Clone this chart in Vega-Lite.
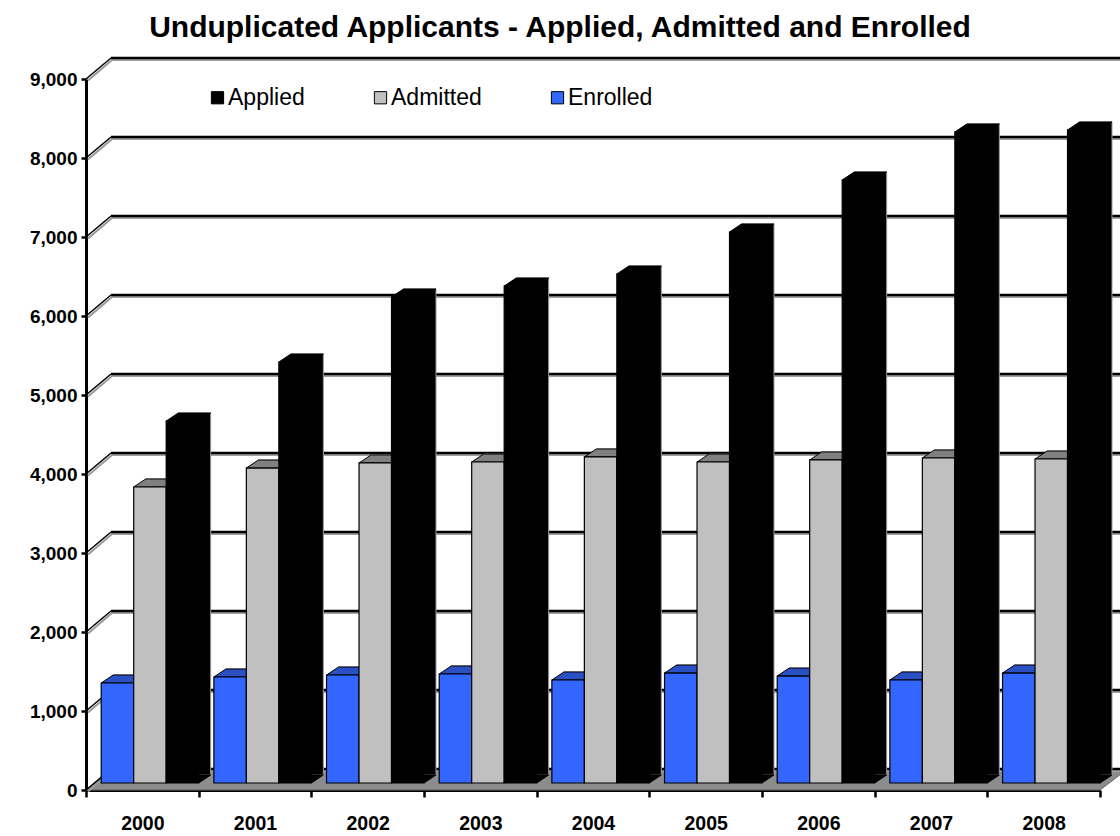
{
"$schema":"https://vega.github.io/schema/vega-lite/v6.json",
"width":1014,"height":711,
"autosize":"none",
"padding":{"left":86,"top":79,"right":20,"bottom":46},
"background":"white",
"title":{"text":"Unduplicated Applicants - Applied, Admitted and Enrolled","font":"Liberation Sans","fontWeight":"bold","fontSize":30,"color":"black","anchor":"middle","dx":-33,"offset":12},
"config":{"view":{"stroke":null},"font":"Liberation Sans"},
"datasets":{
"bars":[
{"year":"2000","series":"Enrolled","value":1266},{"year":"2001","series":"Enrolled","value":1342},{"year":"2002","series":"Enrolled","value":1367},{"year":"2003","series":"Enrolled","value":1380},{"year":"2004","series":"Enrolled","value":1304},{"year":"2005","series":"Enrolled","value":1392},{"year":"2006","series":"Enrolled","value":1354},{"year":"2007","series":"Enrolled","value":1304},{"year":"2008","series":"Enrolled","value":1392},
{"year":"2000","series":"Admitted","value":3747},{"year":"2001","series":"Admitted","value":3987},{"year":"2002","series":"Admitted","value":4051},{"year":"2003","series":"Admitted","value":4063},{"year":"2004","series":"Admitted","value":4127},{"year":"2005","series":"Admitted","value":4063},{"year":"2006","series":"Admitted","value":4089},{"year":"2007","series":"Admitted","value":4114},{"year":"2008","series":"Admitted","value":4101},
{"year":"2000","series":"Applied","value":4582},{"year":"2001","series":"Applied","value":5329},{"year":"2002","series":"Applied","value":6152},{"year":"2003","series":"Applied","value":6291},{"year":"2004","series":"Applied","value":6443},{"year":"2005","series":"Applied","value":6975},{"year":"2006","series":"Applied","value":7633},{"year":"2007","series":"Applied","value":8241},{"year":"2008","series":"Applied","value":8266}
],
"ticks":[{"tick":0},{"tick":1000},{"tick":2000},{"tick":3000},{"tick":4000},{"tick":5000},{"tick":6000},{"tick":7000},{"tick":8000},{"tick":9000}]
},
"resolve":{"scale":{"x":"independent","y":"independent","xOffset":"independent"},"axis":{"x":"independent","y":"independent"}},
"layer":[
{"data":{"name":"ticks"},
 "encoding":{
  "x":{"datum":"2000","bandPosition":0,"type":"nominal","scale":{"domain":["2000","2001","2002","2003","2004","2005","2006","2007","2008"],"paddingInner":0,"paddingOuter":0},
   "axis":{"title":null,"labelFont":"Liberation Sans","labelFontWeight":"bold","labelFontSize":19.5,"labelColor":"black","labelAngle":0,"labelPadding":17,"tickBand":"extent","tickSize":7,"tickWidth":2.5,"tickColor":"black","domainColor":"black","domainWidth":3,"grid":false}},
  "y":{"field":"tick","type":"quantitative","scale":{"domain":[0,9000],"nice":false},
   "axis":{"title":null,"values":[0,1000,2000,3000,4000,5000,6000,7000,8000,9000],"format":",.0f","labelFont":"Liberation Sans","labelFontWeight":"bold","labelFontSize":19,"labelColor":"black","labelPadding":4,"tickSize":5,"tickWidth":2.5,"tickColor":"black","domainColor":"black","domainWidth":3,"grid":false}}
 },
 "layer":[
  {"transform":[{"filter":"datum.tick===0"}],"mark":{"type":"point","shape":"M0,0L1014,0L1039,-19L25,-19Z","size":4,"filled":true,"fill":"#8c8c8c","stroke":"#666666","strokeWidth":1,"opacity":1}},
  {"mark":{"type":"rule","color":"#a0a0a0","strokeWidth":2,"xOffset":25,"x2Offset":25,"yOffset":-19,"y2Offset":-19},
   "encoding":{"x":{"value":0},"x2":{"value":1014}}},
  {"mark":{"type":"rule","color":"black","strokeWidth":2.5,"xOffset":25,"x2Offset":25,"yOffset":-21,"y2Offset":-21},
   "encoding":{"x":{"value":0},"x2":{"value":1014}}},
  {"mark":{"type":"point","shape":"M2,1.5L26,-19","size":4,"stroke":"#999999","strokeWidth":2,"opacity":1}},
  {"mark":{"type":"point","shape":"M0,0L25,-21","size":4,"stroke":"black","strokeWidth":1.5,"opacity":1}}
 ]},
{"data":{"name":"bars"},"mark":{"type":"bar","stroke":"#9a9a9a","strokeWidth":1,"fill":"black"},
 "encoding":{
  "x":{"field":"year","type":"nominal","axis":null,"scale":{"paddingInner":0,"paddingOuter":0,"range":[12,1026]}},
  "xOffset":{"field":"series","type":"nominal","sort":["Enrolled","Admitted","Applied"],"scale":{"paddingOuter":0.234,"paddingInner":0,"align":1}},
  "y":{"field":"value","type":"quantitative","stack":null,"axis":null,"scale":{"domain":[0,9000],"nice":false,"range":[696,-15]}}}},
{"data":{"name":"bars"},"mark":{"type":"point","filled":true,"size":4,"opacity":1,"shape":"M-16.25,-7L16.25,-7L28.25,-15L-4.25,-15Z","stroke":"black","strokeWidth":1},
 "encoding":{
  "x":{"field":"year","type":"nominal","axis":null,"scale":{"paddingInner":0,"paddingOuter":0}},
  "xOffset":{"field":"series","type":"nominal","sort":["Enrolled","Admitted","Applied"],"scale":{"type":"band","paddingOuter":0.234,"paddingInner":0,"align":1}},
  "y":{"field":"value","type":"quantitative","axis":null,"scale":{"domain":[0,9000],"nice":false}},
  "fill":{"condition":[{"test":"datum.series==='Enrolled'","value":"#2a50c4"},{"test":"datum.series==='Admitted'","value":"#808080"}],"value":"black"}}},
{"data":{"name":"bars"},"transform":[{"filter":"datum.series==='Applied'"}],"mark":{"type":"point","filled":true,"size":4,"opacity":1,"shape":"M16.25,-7L28.25,-15L16.25,-15Z","fill":"black","stroke":"black","strokeWidth":1},
 "encoding":{
  "x":{"field":"year","type":"nominal","axis":null,"scale":{"domain":["2000","2001","2002","2003","2004","2005","2006","2007","2008"],"paddingInner":0,"paddingOuter":0}},
  "xOffset":{"datum":"Applied","type":"nominal","scale":{"type":"band","domain":["Enrolled","Admitted","Applied"],"paddingOuter":0.234,"paddingInner":0,"align":1}},
  "y":{"datum":0,"type":"quantitative","axis":null,"scale":{"domain":[0,9000],"nice":false}}}},
{"data":{"name":"bars"},"mark":{"type":"bar","stroke":"black","strokeWidth":1.2},
 "encoding":{
  "x":{"field":"year","type":"nominal","axis":null,"scale":{"paddingInner":0,"paddingOuter":0}},
  "xOffset":{"field":"series","type":"nominal","sort":["Enrolled","Admitted","Applied"],"scale":{"paddingOuter":0.234,"paddingInner":0,"align":1}},
  "y":{"field":"value","type":"quantitative","stack":null,"axis":null,"scale":{"domain":[0,9000],"nice":false,"range":[704,-7]}},
  "color":{"field":"series","type":"nominal",
   "scale":{"domain":["Applied","Admitted","Enrolled"],"range":["#000000","#c0c0c0","#3366ff"]},
   "legend":{"title":null,"orient":"none","legendX":120,"legendY":7,"direction":"horizontal","columns":3,"columnPadding":64,"labelFont":"Liberation Sans","labelFontSize":23,"labelColor":"black","labelOffset":-1,"labelExpr":"datum.label==='Admitted'?'Admitted ':datum.label","symbolType":"square","symbolSize":150,"symbolStrokeColor":"black","symbolStrokeWidth":1,"padding":0,"labelLimit":200,"symbolOpacity":1}}}}
]
}
